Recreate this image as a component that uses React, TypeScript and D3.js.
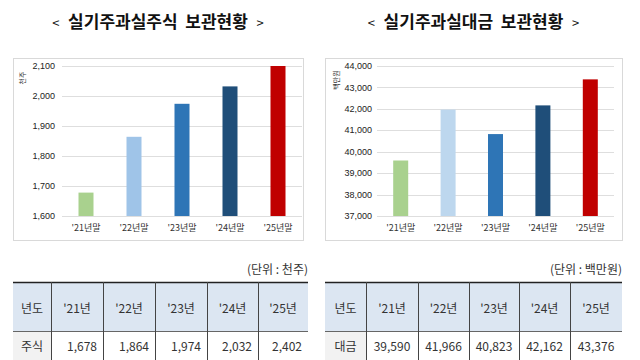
import React from "react";
import * as d3 from "d3";

const categories = ["'21년말", "'22년말", "'23년말", "'24년말", "'25년말"];
const yearHeaders = ["'21년", "'22년", "'23년", "'24년", "'25년"];
const shareValues = [1678, 1864, 1974, 2032, 2402];
const cashValues = [39590, 41966, 40823, 42162, 43376];
const shareTicks = [1600, 1700, 1800, 1900, 2000, 2100];
const cashTicks = [37000, 38000, 39000, 40000, 41000, 42000, 43000, 44000];
const shareColors = ["#a9d18e", "#9fc4e8", "#2e75b6", "#1f4e79", "#c00000"];
const cashColors = ["#a9d18e", "#bdd7ee", "#2e75b6", "#1f4e79", "#c00000"];

const KR = "'Noto Sans CJK KR', 'Noto Sans', sans-serif";
const NUM = "'Liberation Sans', Arial, sans-serif";

type ChartProps = {
  title: string;
  unit: string;
  values: number[];
  ticks: number[];
  colors: string[];
  frame: [number, number];
  plotX: [number, number];
  tickX: number;
  unitX: number;
  unitY: number;
};

function Chart({ title, unit, values, ticks, colors, frame, plotX, tickX, unitX, unitY }: ChartProps) {
  const y = d3
    .scaleLinear()
    .domain([ticks[0], ticks[ticks.length - 1]])
    .range([216, 66])
    .clamp(true);
  const step = (plotX[1] - plotX[0]) / categories.length;
  const p = 1 - 15 / step;
  const x = d3
    .scaleBand<string>()
    .domain(categories)
    .range(plotX)
    .paddingInner(p)
    .paddingOuter(p / 2);
  const fmt = d3.format(",");
  const cx = (frame[0] + frame[1]) / 2;
  const parts = title.split(" ");
  return (
    <g>
      <text x={cx} y={28} textAnchor="middle" fontFamily={KR} fill="#111" style={{ whiteSpace: "pre" }}>
        <tspan fontSize={13} fontWeight={400}>{"<   "}</tspan>
        <tspan fontSize={17} fontWeight={700}>{parts[0]}</tspan>
        <tspan fontSize={17} fontWeight={700}>{"  " + parts[1]}</tspan>
        <tspan fontSize={13} fontWeight={400}>{"   >"}</tspan>
      </text>
      <rect x={frame[0] + 0.5} y={58.5} width={frame[1] - frame[0]} height={182} fill="#fff" stroke="#d9d9d9" />
      {ticks.map((t) => (
        <g key={t}>
          <line x1={plotX[0]} x2={plotX[1]} y1={Math.round(y(t)) + 0.5} y2={Math.round(y(t)) + 0.5} stroke="#dedede" />
          <text x={tickX} y={y(t)} dy="0.35em" textAnchor="end" fontFamily={NUM} fontSize={9} fill="#222">
            {fmt(t)}
          </text>
        </g>
      ))}
      {values.map((v, i) => (
        <rect
          key={i}
          x={x(categories[i])}
          y={y(v)}
          width={x.bandwidth()}
          height={y(ticks[0]) - y(v)}
          fill={colors[i]}
        />
      ))}
      {categories.map((c) => (
        <text
          key={c}
          x={(x(c) as number) + x.bandwidth() / 2}
          y={228}
          dy="0.35em"
          textAnchor="middle"
          fontFamily={KR}
          fontSize={9}
          fill="#333"
        >
          {c}
        </text>
      ))}
      <text
        transform={`translate(${unitX},${unitY}) rotate(-90)`}
        textAnchor="middle"
        dy="0.35em"
        fontFamily={KR}
        fontSize={7}
        fill="#333"
      >
        {unit}
      </text>
    </g>
  );
}

type TableProps = {
  unitLabel: string;
  rowLabel: string;
  values: number[];
  cols: number[];
  align: "end" | "middle";
};

function Table({ unitLabel, rowLabel, values, cols, align }: TableProps) {
  const fmt = d3.format(",");
  const top = 282;
  const mid = 331;
  const bottom = 365;
  const left = cols[0];
  const right = cols[cols.length - 1];
  return (
    <g>
      <text x={right} y={270} dy="0.35em" textAnchor="end" fontFamily={KR} fontSize={12} fill="#333" style={{ whiteSpace: "pre" }}>
        {unitLabel}
      </text>
      <rect x={left} y={top} width={right - left} height={mid - top} fill="#dce6f2" />
      <rect x={left} y={mid} width={cols[1] - left} height={bottom - mid} fill="#f2f2f2" />
      <line x1={left} x2={right} y1={top + 0.5} y2={top + 0.5} stroke="#222" strokeWidth={1.5} />
      <line x1={left} x2={right} y1={mid + 0.5} y2={mid + 0.5} stroke="#666" />
      {cols.slice(1, -1).map((c) => (
        <line key={c} x1={c + 0.5} x2={c + 0.5} y1={top} y2={bottom} stroke="#444" />
      ))}
      <text x={(cols[0] + cols[1]) / 2} y={309} dy="0.35em" textAnchor="middle" fontFamily={KR} fontSize={12} fill="#333">
        년도
      </text>
      <text x={(cols[0] + cols[1]) / 2} y={347} dy="0.35em" textAnchor="middle" fontFamily={KR} fontSize={12} fill="#333">
        {rowLabel}
      </text>
      {yearHeaders.map((h, i) => (
        <text
          key={h}
          x={(cols[i + 1] + cols[i + 2]) / 2}
          y={309}
          dy="0.35em"
          textAnchor="middle"
          fontFamily={KR}
          fontSize={12}
          fill="#333"
        >
          {h}
        </text>
      ))}
      {values.map((v, i) => (
        <text
          key={i}
          x={align === "end" ? cols[i + 2] - 6 : (cols[i + 1] + cols[i + 2]) / 2}
          y={347}
          dy="0.35em"
          textAnchor={align}
          fontFamily={KR}
          fontSize={12}
          fill="#333"
        >
          {fmt(v)}
        </text>
      ))}
    </g>
  );
}

export default function App() {
  return (
    <svg
      width={640}
      height={360}
      viewBox="0 0 640 360"
      style={{ position: "fixed", left: 0, top: 0, background: "#fff" }}
    >
      <rect width={640} height={360} fill="#fff" />
      <Chart
        title="실기주과실주식 보관현황"
        unit="천주"
        values={shareValues}
        ticks={shareTicks}
        colors={shareColors}
        frame={[13, 303]}
        plotX={[62, 302]}
        tickX={55}
        unitX={23}
        unitY={78}
      />
      <Chart
        title="실기주과실대금 보관현황"
        unit="백만원"
        values={cashValues}
        ticks={cashTicks}
        colors={cashColors}
        frame={[325, 622]}
        plotX={[377, 614]}
        tickX={372}
        unitX={337}
        unitY={80}
      />
      <Table unitLabel="(단위 : 천주)" rowLabel="주식" values={shareValues} cols={[13, 51, 103, 155, 207, 258, 308]} align="end" />
      <Table unitLabel="(단위 : 백만원)" rowLabel="대금" values={cashValues} cols={[325, 366, 418, 469, 519, 570, 622]} align="middle" />
    </svg>
  );
}
